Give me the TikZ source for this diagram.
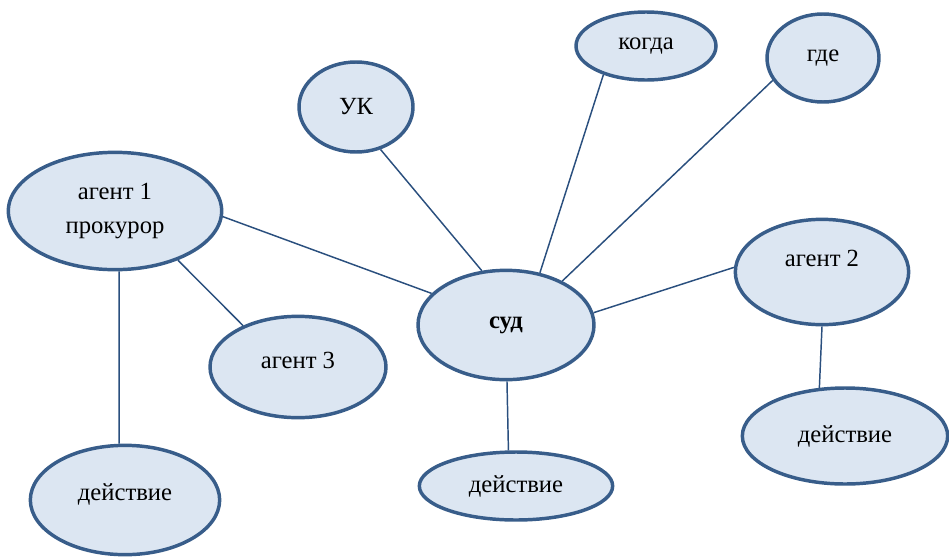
\documentclass[tikz,border=0pt]{standalone}
\usepackage{fontspec}
\setmainfont{Liberation Serif}
\usetikzlibrary{shapes.geometric}
\definecolor{elfill}{HTML}{DCE6F2}
\definecolor{eldraw}{HTML}{385D8A}
\definecolor{linkcol}{HTML}{2A4F7E}

\begin{document}
\begin{tikzpicture}[x=0.75pt,y=-0.75pt,
    el/.style={ellipse,draw=eldraw,fill=elfill,line width=2.6pt,inner sep=0pt,
      font=\fontsize{18.5}{22}\selectfont,align=center},
    link/.style={draw=linkcol,line width=1.1pt}]
            \useasboundingbox (0,0) rectangle (949,557);

            \node[el,minimum width=85.5pt,minimum height=67.5pt] (uk) at (356,107) {УК};
            \node[el,minimum width=105pt,minimum height=51pt] (kogda) at (646,46) {когда};
            \node[el,minimum width=84pt,minimum height=66pt] (gde) at (823,58) {где};
            \node[el,minimum width=160pt,minimum height=88pt] (agent1) at (115,211) {агент 1\\[3pt]прокурор};
            \node[el,minimum width=132pt,minimum height=82pt] (sud) at (506,325) {\bfseries суд};
            \node[el,minimum width=130pt,minimum height=79pt,text depth=21pt] (agent2) at (822,272) {агент 2};
            \node[el,minimum width=132pt,minimum height=76pt,text depth=10pt] (agent3) at (298,367) {агент 3};
            \node[el,minimum width=142pt,minimum height=82pt,text depth=12.5pt] (dej1) at (125,500) {действие};
            \node[el,minimum width=145pt,minimum height=51pt] (dej2) at (516,486) {действие};
            \node[el,minimum width=154pt,minimum height=72pt] (dej3) at (845,436) {действие};

            \draw[link] (uk.-60)--(sud.114);
            \draw[link] (kogda.-146)--(sud.57);
            \draw[link] (gde.-156)--(sud.38);
            \draw[link] (agent1.-3)--(sud.157);
            \draw[link] (agent2.177)--(sud.8);
            \draw[link] (agent1.-38)--(agent3.143);
            \draw[link] (agent1.-86)--(dej1.96);
            \draw[link] (sud.-89)--(dej2.102);
            \draw[link] (agent2.-90)--(dej3.118);
        \end{tikzpicture}
\end{document}
